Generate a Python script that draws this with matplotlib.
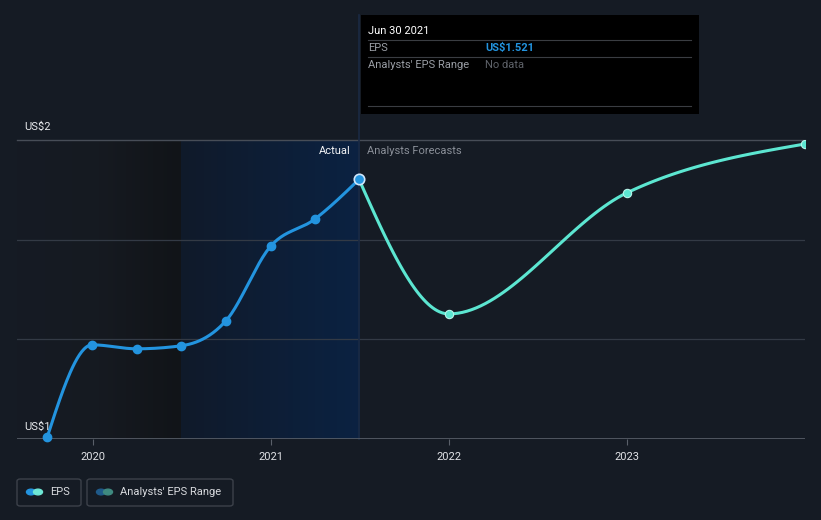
import numpy as np
import matplotlib
matplotlib.use("Agg")
import matplotlib.pyplot as plt
import matplotlib.dates as mdates
from matplotlib.patches import FancyBboxPatch, Rectangle
from matplotlib.colors import LinearSegmentedColormap
from datetime import datetime

plt.rcParams['font.family'] = ['Roboto', 'DejaVu Sans']

# ---- data ----
actual_dates = ["2019-09-30", "2019-12-31", "2020-03-31", "2020-06-30",
                "2020-09-30", "2020-12-31", "2021-03-31", "2021-06-30"]
actual_eps = [1.004, 1.189, 1.181, 1.187, 1.237, 1.387, 1.441, 1.521]
forecast_dates = ["2021-06-30", "2021-12-31", "2022-12-31", "2023-12-31"]
forecast_eps = [1.521, 1.251, 1.494, 1.592]
year_ticks = ["2020", "2021", "2022", "2023"]
y_ticks = [1.0, 1.2, 1.4, 1.6]
y_labels = {1.0: "US$1", 1.6: "US$2"}

BG = "#151b24"
BLUE = "#2394df"
TURQ = "#5ce6d1"
W, H = 821, 520

def to_num(ds):
    return mdates.date2num([datetime.strptime(d, "%Y-%m-%d") for d in ds])

def monotone_x(x, y, n=40):
    x = np.asarray(x, float); y = np.asarray(y, float)
    m = len(x)
    h = np.diff(x); s = np.diff(y) / h
    t = np.zeros(m)
    for i in range(1, m - 1):
        s0, s1, h0, h1 = s[i-1], s[i], h[i-1], h[i]
        p = (s0 * h1 + s1 * h0) / (h0 + h1)
        t[i] = (np.sign(s0) + np.sign(s1)) * min(abs(s0), abs(s1), 0.5 * abs(p)) or 0.0
    if m > 2:
        t[0] = (3 * s[0] - t[1]) / 2
        t[-1] = (3 * s[-1] - t[-2]) / 2
    else:
        t[0] = t[-1] = s[0]
    xs, ys = [], []
    for i in range(m - 1):
        u = np.linspace(0, 1, n)
        hh = h[i]
        h00 = 2*u**3 - 3*u**2 + 1
        h10 = u**3 - 2*u**2 + u
        h01 = -2*u**3 + 3*u**2
        h11 = u**3 - u**2
        yy = h00*y[i] + h10*hh*t[i] + h01*y[i+1] + h11*hh*t[i+1]
        xs.append(x[i] + u*hh); ys.append(yy)
    return np.concatenate(xs), np.concatenate(ys)

fig = plt.figure(figsize=(W/100, H/100), dpi=100, facecolor=BG)
ax = fig.add_axes([17/W, (H-439)/H, 788/W, 299/H])
ax.set_facecolor(BG)

xa = to_num(actual_dates); xf = to_num(forecast_dates)
x_left = mdates.date2num(datetime(2019, 7, 30))
x_right = mdates.date2num(datetime(2023, 12, 31))

# shaded regions
x_mid = mdates.date2num(datetime(2020, 6, 30))
x_now = xa[-1]
g1 = np.linspace(0, 1, 512).reshape(1, -1)
cm1 = LinearSegmentedColormap.from_list("g1", [BG, "#161a21", "#111418"])
cm2 = LinearSegmentedColormap.from_list("g2", ["#101a2a", "#0b2242"])
ax.imshow(g1, extent=[x_left, x_mid, 1.0, 1.6], aspect='auto', cmap=cm1, zorder=0,
          interpolation='bilinear')
ax.imshow(g1, extent=[x_mid, x_now, 1.0, 1.6], aspect='auto', cmap=cm2, zorder=0,
          interpolation='bilinear')
ax.set_xlim(x_left, x_right)
ax.set_ylim(1.0, 1.6)

# gridlines
for yv in y_ticks[1:-1]:
    ax.axhline(yv, color="#333a45", lw=0.9, zorder=1)
ax.axhline(1.6, color="#474d57", lw=1.0, zorder=1, clip_on=False)

# lines
sx, sy = monotone_x(xa, actual_eps)
ax.plot(sx, sy, color=BLUE, lw=2.2, zorder=3, solid_capstyle='round')
fx, fy = monotone_x(xf, forecast_eps)
ax.plot(fx, fy, color=TURQ, lw=2.2, zorder=3, solid_capstyle='round')
ax.plot(xa[:-1], actual_eps[:-1], 'o', color=BLUE, ms=6, zorder=4, clip_on=False)
ax.plot(xf[1:], forecast_eps[1:], 'o', color=TURQ, mec="#b8f5ea", mew=0.8, ms=6, zorder=4)
ax.plot([xa[-1]], [actual_eps[-1]], 'o', color=BLUE, mec="#cfe6fb", mew=1.2, ms=7.5, zorder=5)

# hover line
ax.plot([x_now, x_now], [1.0, 1.6 + 0.6*125/299], color="#1a2a44", lw=1.2, zorder=2, clip_on=False)

# axes styling
for sp in ax.spines.values():
    sp.set_visible(False)
ax.axhline(1.0, color="#5a606a", lw=1.2, zorder=2)
ax.set_yticks([])
ax.set_xticks(to_num([f"{y}-01-01" for y in year_ticks]))
ax.set_xticklabels(year_ticks)
ax.tick_params(axis='x', colors="#5a606a", length=4, width=0.8, labelcolor="#e0e2e6",
               labelsize=8, pad=5)

def ftxt(x, y, s, **kw):
    fig.text(x/W, 1 - y/H, s, **kw)

ftxt(24, 127, y_labels[1.6], color="#e8eaed", fontsize=8, va='center')
ftxt(24, 427, y_labels[1.0], color="#e8eaed", fontsize=8, va='center')
ftxt(351, 151, "Actual", color="#f2f3f5", fontsize=8, va='center', ha='right')
ftxt(367, 151, "Analysts Forecasts", color="#8a8f98", fontsize=8, va='center', ha='left')

# tooltip
fig.patches.append(Rectangle((361/W, 1 - 114/H), 338/W, 99/H, transform=fig.transFigure,
                             facecolor="#000000", edgecolor='none', zorder=10))
for yy in (40, 57, 106):
    fig.lines.append(plt.Line2D([368/W, 691/W], [1 - yy/H, 1 - yy/H], transform=fig.transFigure,
                                color="#3a3d42", lw=0.8, zorder=11))
ftxt(368, 31, "Jun 30 2021", color="#ffffff", fontsize=8, va='center', zorder=12)
ftxt(368, 48, "EPS", color="#9a9ea5", fontsize=8, va='center', zorder=12)
ftxt(485, 48, "US$1.521", color=BLUE, fontsize=8, fontweight='bold', va='center', zorder=12)
ftxt(368, 65, "Analysts' EPS Range", color="#9a9ea5", fontsize=8, va='center', zorder=12)
ftxt(485, 65, "No data", color="#5f636a", fontsize=8, va='center', zorder=12)

# legend
def legbox(x0, x1, c1, c2, label):
    fig.patches.append(FancyBboxPatch((x0/W, 1 - 506/H), (x1-x0)/W, 27/H,
                                      boxstyle="round,pad=0,rounding_size=0.004",
                                      transform=fig.transFigure, facecolor='none',
                                      edgecolor="#3c414a", lw=1.0))
    fig.patches.append(plt.Circle(((x0+14)/W, 1 - 492/H), 4.5/W, transform=fig.transFigure,
                                  color=c1))
    fig.patches.append(plt.Circle(((x0+21)/W, 1 - 492/H), 4.5/W, transform=fig.transFigure,
                                  color=c2))
    ftxt(x0 + 33, 492, label, color="#d8dade", fontsize=8, va='center')

legbox(17, 81, BLUE, "#6ee7d5", "EPS")
legbox(87, 233, "#1f5a8a", "#3f8a80", "Analysts' EPS Range")

fig.savefig("out.png", dpi=100, facecolor=BG)
